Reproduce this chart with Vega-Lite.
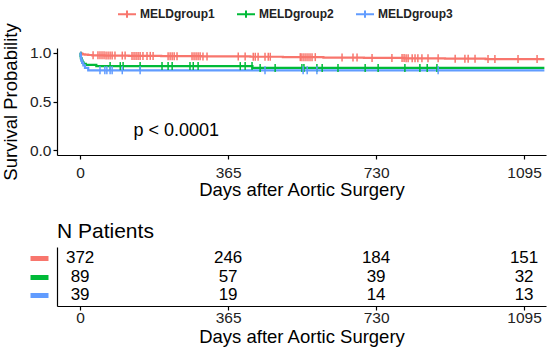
{
  "$schema": "https://vega.github.io/schema/vega-lite/v6.json",
  "padding": {"left": 1, "right": 4, "top": 4, "bottom": 4},
  "spacing": 22,
  "config": {
    "view": {"stroke": null},
    "font": "Liberation Sans",
    "axis": {"grid": false, "domainColor": "#000", "tickColor": "#000", "labelColor": "#222", "titleColor": "#000", "labelFontSize": 15.5, "titleFontSize": 18.5, "titleFontWeight": "normal", "tickSize": 4, "domainWidth": 1.2, "tickWidth": 1.2, "labelPadding": 6, "titlePadding": 0, "format": "d"}
  },
  "resolve": {"scale": {"x": "independent", "y": "independent"}},
  "datasets": {
    "curve": [
      {"group": "MELDgroup1", "day": 0, "surv": 1.0},
      {"group": "MELDgroup1", "day": 2, "surv": 0.995},
      {"group": "MELDgroup1", "day": 4, "surv": 0.989},
      {"group": "MELDgroup1", "day": 7, "surv": 0.984},
      {"group": "MELDgroup1", "day": 12, "surv": 0.981},
      {"group": "MELDgroup1", "day": 20, "surv": 0.978},
      {"group": "MELDgroup1", "day": 30, "surv": 0.975},
      {"group": "MELDgroup1", "day": 60, "surv": 0.972},
      {"group": "MELDgroup1", "day": 120, "surv": 0.969},
      {"group": "MELDgroup1", "day": 200, "surv": 0.966},
      {"group": "MELDgroup1", "day": 300, "surv": 0.963},
      {"group": "MELDgroup1", "day": 420, "surv": 0.96},
      {"group": "MELDgroup1", "day": 500, "surv": 0.956},
      {"group": "MELDgroup1", "day": 600, "surv": 0.952},
      {"group": "MELDgroup1", "day": 700, "surv": 0.948},
      {"group": "MELDgroup1", "day": 800, "surv": 0.944},
      {"group": "MELDgroup1", "day": 900, "surv": 0.94},
      {"group": "MELDgroup1", "day": 1000, "surv": 0.936},
      {"group": "MELDgroup1", "day": 1145, "surv": 0.936},
      {"group": "MELDgroup2", "day": 0, "surv": 1.0},
      {"group": "MELDgroup2", "day": 1, "surv": 0.966},
      {"group": "MELDgroup2", "day": 2, "surv": 0.944},
      {"group": "MELDgroup2", "day": 4, "surv": 0.921},
      {"group": "MELDgroup2", "day": 6, "surv": 0.899},
      {"group": "MELDgroup2", "day": 9, "surv": 0.888},
      {"group": "MELDgroup2", "day": 14, "surv": 0.876},
      {"group": "MELDgroup2", "day": 40, "surv": 0.864},
      {"group": "MELDgroup2", "day": 425, "surv": 0.845},
      {"group": "MELDgroup2", "day": 1145, "surv": 0.845},
      {"group": "MELDgroup3", "day": 0, "surv": 1.0},
      {"group": "MELDgroup3", "day": 1, "surv": 0.974},
      {"group": "MELDgroup3", "day": 2, "surv": 0.949},
      {"group": "MELDgroup3", "day": 3, "surv": 0.923},
      {"group": "MELDgroup3", "day": 5, "surv": 0.897},
      {"group": "MELDgroup3", "day": 8, "surv": 0.872},
      {"group": "MELDgroup3", "day": 12, "surv": 0.846},
      {"group": "MELDgroup3", "day": 20, "surv": 0.821},
      {"group": "MELDgroup3", "day": 1145, "surv": 0.821}
    ],
    "censor": [
      {"group": "MELDgroup1", "day": 32, "surv": 0.975},
      {"group": "MELDgroup1", "day": 44, "surv": 0.975},
      {"group": "MELDgroup1", "day": 49, "surv": 0.975},
      {"group": "MELDgroup1", "day": 54, "surv": 0.975},
      {"group": "MELDgroup1", "day": 59, "surv": 0.975},
      {"group": "MELDgroup1", "day": 64, "surv": 0.972},
      {"group": "MELDgroup1", "day": 69, "surv": 0.972},
      {"group": "MELDgroup1", "day": 74, "surv": 0.972},
      {"group": "MELDgroup1", "day": 79, "surv": 0.972},
      {"group": "MELDgroup1", "day": 86, "surv": 0.972},
      {"group": "MELDgroup1", "day": 104, "surv": 0.972},
      {"group": "MELDgroup1", "day": 111, "surv": 0.972},
      {"group": "MELDgroup1", "day": 128, "surv": 0.969},
      {"group": "MELDgroup1", "day": 133, "surv": 0.969},
      {"group": "MELDgroup1", "day": 138, "surv": 0.969},
      {"group": "MELDgroup1", "day": 143, "surv": 0.969},
      {"group": "MELDgroup1", "day": 148, "surv": 0.969},
      {"group": "MELDgroup1", "day": 155, "surv": 0.969},
      {"group": "MELDgroup1", "day": 165, "surv": 0.969},
      {"group": "MELDgroup1", "day": 173, "surv": 0.969},
      {"group": "MELDgroup1", "day": 180, "surv": 0.969},
      {"group": "MELDgroup1", "day": 217, "surv": 0.966},
      {"group": "MELDgroup1", "day": 222, "surv": 0.966},
      {"group": "MELDgroup1", "day": 227, "surv": 0.966},
      {"group": "MELDgroup1", "day": 232, "surv": 0.966},
      {"group": "MELDgroup1", "day": 239, "surv": 0.966},
      {"group": "MELDgroup1", "day": 276, "surv": 0.966},
      {"group": "MELDgroup1", "day": 281, "surv": 0.966},
      {"group": "MELDgroup1", "day": 286, "surv": 0.966},
      {"group": "MELDgroup1", "day": 291, "surv": 0.966},
      {"group": "MELDgroup1", "day": 296, "surv": 0.966},
      {"group": "MELDgroup1", "day": 303, "surv": 0.963},
      {"group": "MELDgroup1", "day": 313, "surv": 0.963},
      {"group": "MELDgroup1", "day": 390, "surv": 0.963},
      {"group": "MELDgroup1", "day": 407, "surv": 0.963},
      {"group": "MELDgroup1", "day": 427, "surv": 0.96},
      {"group": "MELDgroup1", "day": 432, "surv": 0.96},
      {"group": "MELDgroup1", "day": 439, "surv": 0.96},
      {"group": "MELDgroup1", "day": 456, "surv": 0.96},
      {"group": "MELDgroup1", "day": 464, "surv": 0.96},
      {"group": "MELDgroup1", "day": 469, "surv": 0.96},
      {"group": "MELDgroup1", "day": 543, "surv": 0.956},
      {"group": "MELDgroup1", "day": 547, "surv": 0.956},
      {"group": "MELDgroup1", "day": 552, "surv": 0.956},
      {"group": "MELDgroup1", "day": 557, "surv": 0.956},
      {"group": "MELDgroup1", "day": 562, "surv": 0.956},
      {"group": "MELDgroup1", "day": 567, "surv": 0.956},
      {"group": "MELDgroup1", "day": 572, "surv": 0.956},
      {"group": "MELDgroup1", "day": 580, "surv": 0.956},
      {"group": "MELDgroup1", "day": 646, "surv": 0.952},
      {"group": "MELDgroup1", "day": 673, "surv": 0.952},
      {"group": "MELDgroup1", "day": 683, "surv": 0.952},
      {"group": "MELDgroup1", "day": 720, "surv": 0.948},
      {"group": "MELDgroup1", "day": 769, "surv": 0.948},
      {"group": "MELDgroup1", "day": 794, "surv": 0.948},
      {"group": "MELDgroup1", "day": 799, "surv": 0.948},
      {"group": "MELDgroup1", "day": 804, "surv": 0.944},
      {"group": "MELDgroup1", "day": 809, "surv": 0.944},
      {"group": "MELDgroup1", "day": 819, "surv": 0.944},
      {"group": "MELDgroup1", "day": 826, "surv": 0.944},
      {"group": "MELDgroup1", "day": 833, "surv": 0.944},
      {"group": "MELDgroup1", "day": 843, "surv": 0.944},
      {"group": "MELDgroup1", "day": 858, "surv": 0.944},
      {"group": "MELDgroup1", "day": 883, "surv": 0.944},
      {"group": "MELDgroup1", "day": 925, "surv": 0.94},
      {"group": "MELDgroup1", "day": 949, "surv": 0.94},
      {"group": "MELDgroup1", "day": 957, "surv": 0.94},
      {"group": "MELDgroup1", "day": 974, "surv": 0.94},
      {"group": "MELDgroup1", "day": 1006, "surv": 0.936},
      {"group": "MELDgroup1", "day": 1023, "surv": 0.936},
      {"group": "MELDgroup1", "day": 1080, "surv": 0.936},
      {"group": "MELDgroup1", "day": 1127, "surv": 0.936},
      {"group": "MELDgroup2", "day": 74, "surv": 0.864},
      {"group": "MELDgroup2", "day": 99, "surv": 0.864},
      {"group": "MELDgroup2", "day": 106, "surv": 0.864},
      {"group": "MELDgroup2", "day": 148, "surv": 0.864},
      {"group": "MELDgroup2", "day": 202, "surv": 0.864},
      {"group": "MELDgroup2", "day": 217, "surv": 0.864},
      {"group": "MELDgroup2", "day": 227, "surv": 0.864},
      {"group": "MELDgroup2", "day": 271, "surv": 0.864},
      {"group": "MELDgroup2", "day": 279, "surv": 0.864},
      {"group": "MELDgroup2", "day": 291, "surv": 0.864},
      {"group": "MELDgroup2", "day": 395, "surv": 0.864},
      {"group": "MELDgroup2", "day": 407, "surv": 0.864},
      {"group": "MELDgroup2", "day": 424, "surv": 0.864},
      {"group": "MELDgroup2", "day": 444, "surv": 0.845},
      {"group": "MELDgroup2", "day": 481, "surv": 0.845},
      {"group": "MELDgroup2", "day": 547, "surv": 0.845},
      {"group": "MELDgroup2", "day": 552, "surv": 0.845},
      {"group": "MELDgroup2", "day": 584, "surv": 0.845},
      {"group": "MELDgroup2", "day": 597, "surv": 0.845},
      {"group": "MELDgroup2", "day": 636, "surv": 0.845},
      {"group": "MELDgroup2", "day": 703, "surv": 0.845},
      {"group": "MELDgroup2", "day": 735, "surv": 0.845},
      {"group": "MELDgroup2", "day": 801, "surv": 0.845},
      {"group": "MELDgroup2", "day": 838, "surv": 0.845},
      {"group": "MELDgroup2", "day": 856, "surv": 0.845},
      {"group": "MELDgroup2", "day": 880, "surv": 0.845},
      {"group": "MELDgroup3", "day": 49, "surv": 0.821},
      {"group": "MELDgroup3", "day": 61, "surv": 0.821},
      {"group": "MELDgroup3", "day": 66, "surv": 0.821},
      {"group": "MELDgroup3", "day": 74, "surv": 0.821},
      {"group": "MELDgroup3", "day": 79, "surv": 0.821},
      {"group": "MELDgroup3", "day": 104, "surv": 0.821},
      {"group": "MELDgroup3", "day": 148, "surv": 0.821},
      {"group": "MELDgroup3", "day": 456, "surv": 0.821},
      {"group": "MELDgroup3", "day": 550, "surv": 0.821},
      {"group": "MELDgroup3", "day": 560, "surv": 0.821},
      {"group": "MELDgroup3", "day": 584, "surv": 0.821},
      {"group": "MELDgroup3", "day": 883, "surv": 0.821}
    ],
    "risk": [
      {"group": "MELDgroup1", "day": 0, "n": 372},
      {"group": "MELDgroup1", "day": 365, "n": 246},
      {"group": "MELDgroup1", "day": 730, "n": 184},
      {"group": "MELDgroup1", "day": 1095, "n": 151},
      {"group": "MELDgroup2", "day": 0, "n": 89},
      {"group": "MELDgroup2", "day": 365, "n": 57},
      {"group": "MELDgroup2", "day": 730, "n": 39},
      {"group": "MELDgroup2", "day": 1095, "n": 32},
      {"group": "MELDgroup3", "day": 0, "n": 39},
      {"group": "MELDgroup3", "day": 365, "n": 19},
      {"group": "MELDgroup3", "day": 730, "n": 14},
      {"group": "MELDgroup3", "day": 1095, "n": 13}
    ]
  },
  "vconcat": [
    {
      "width": 489,
      "height": 107,
      "layer": [
        {
          "data": {"name": "curve"},
          "mark": {"type": "line", "interpolate": "step-after", "strokeWidth": 2.2},
          "encoding": {
            "x": {"field": "day", "type": "quantitative", "scale": {"domain": [-57, 1149], "nice": false, "zero": false}, "axis": {"values": [0, 365, 730, 1095], "title": "Days after Aortic Surgery"}},
            "y": {"field": "surv", "type": "quantitative", "scale": {"domain": [-0.05, 1.05], "nice": false}, "axis": {"values": [0, 0.5, 1], "format": ".1f", "title": "Survival Probability", "labelPadding": 2, "titlePadding": 9}},
            "color": {"field": "group", "type": "nominal", "scale": {"domain": ["MELDgroup1", "MELDgroup2", "MELDgroup3"], "range": ["#F8766D", "#00BA38", "#619CFF"]},
              "legend": {"title": null, "orient": "none", "direction": "horizontal", "legendX": 60, "legendY": -44, "symbolType": "M-1,0H1M0,-0.4V0.4", "symbolSize": 324, "symbolStrokeWidth": 2, "labelFontSize": 12, "labelFontWeight": "bold", "labelColor": "#222", "labelOffset": 3, "columnPadding": 18}}
          }
        },
        {
          "data": {"name": "censor"},
          "mark": {"type": "tick", "orient": "vertical", "size": 8, "thickness": 1.5, "opacity": 1},
          "encoding": {
            "x": {"field": "day", "type": "quantitative"},
            "y": {"field": "surv", "type": "quantitative"},
            "color": {"field": "group", "type": "nominal"}
          }
        },
        {
          "data": {"values": [{"day": 237, "surv": 0.195, "label": "p < 0.0001"}]},
          "mark": {"type": "text", "fontSize": 18, "color": "#000"},
          "encoding": {
            "x": {"field": "day", "type": "quantitative"},
            "y": {"field": "surv", "type": "quantitative"},
            "text": {"field": "label"}
          }
        }
      ]
    },
    {
      "width": 489,
      "height": 59,
      "title": {"text": "N Patients", "anchor": "start", "frame": "group", "fontSize": 21, "fontWeight": "normal", "color": "#000", "offset": 5},
      "data": {"name": "risk"},
      "resolve": {"axis": {"y": "independent"}},
      "layer": [
        {
          "mark": {"type": "text", "fontSize": 17, "color": "#000"},
          "encoding": {
            "x": {"field": "day", "type": "quantitative", "scale": {"domain": [-57, 1149], "nice": false, "zero": false}, "axis": {"values": [0, 365, 730, 1095], "title": "Days after Aortic Surgery", "labelPadding": 0, "titlePadding": 2}},
            "y": {"field": "group", "type": "ordinal", "sort": ["MELDgroup1", "MELDgroup2", "MELDgroup3"], "scale": {"type": "point", "padding": 0.6}, "axis": {"title": null, "ticks": false, "labels": false}},
            "text": {"field": "n"}
          }
        },
        {
          "mark": {"type": "point", "opacity": 0},
          "encoding": {
            "x": {"field": "day", "type": "quantitative"},
            "y": {"field": "group", "type": "ordinal", "sort": ["MELDgroup1", "MELDgroup2", "MELDgroup3"], "axis": {"orient": "left", "title": null, "domain": false, "labels": false, "ticks": true, "offset": 9, "tickSize": 18, "tickWidth": 5, "tickCap": "butt", "tickColor": {"expr": "datum.value === 'MELDgroup1' ? '#F8766D' : datum.value === 'MELDgroup2' ? '#00BA38' : '#619CFF'"}}}
          }
        }
      ]
    }
  ]
}
